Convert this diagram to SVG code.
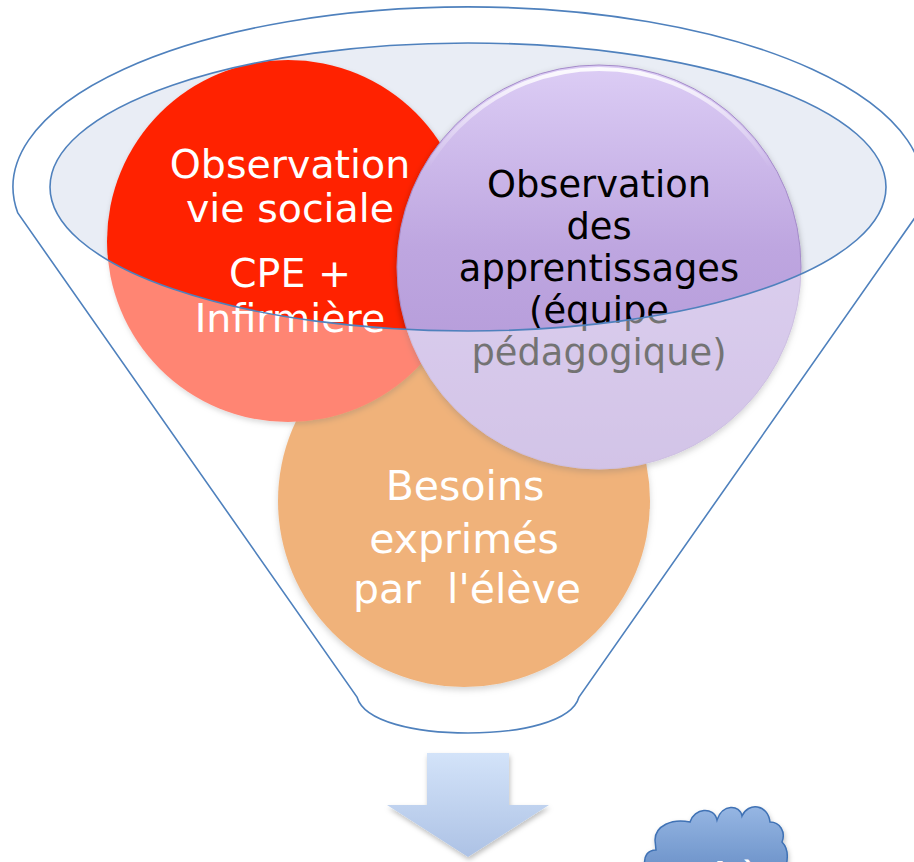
<svg xmlns="http://www.w3.org/2000/svg" width="914" height="862" viewBox="0 0 914 862">
  <defs>
    <style>
      .lbl { font-family: "Comic Sans MS", "DejaVu Sans", sans-serif; text-anchor: middle; }
      .white { fill: #ffffff; }
      .black { fill: #000000; }
      .outline { fill: none; stroke: #4F81BD; stroke-width: 1.6; }
    </style>
    <filter id="shadow" x="-20%" y="-20%" width="140%" height="140%">
      <feDropShadow dx="0" dy="3" stdDeviation="3" flood-color="#000" flood-opacity="0.3"/>
    </filter>
    <filter id="soft" x="-20%" y="-20%" width="140%" height="140%">
      <feDropShadow dx="1" dy="3" stdDeviation="2.5" flood-color="#000" flood-opacity="0.25"/>
    </filter>
    <linearGradient id="purpleGrad" x1="0" y1="0" x2="0" y2="1">
      <stop offset="0" stop-color="#DCCDF5"/>
      <stop offset="0.45" stop-color="#BEA6E0"/>
      <stop offset="1" stop-color="#AE93D4"/>
    </linearGradient>
    <linearGradient id="purpleHl" x1="0" y1="0" x2="0" y2="1">
      <stop offset="0" stop-color="#ffffff" stop-opacity="0.9"/>
      <stop offset="0.25" stop-color="#ffffff" stop-opacity="0"/>
    </linearGradient>
    <linearGradient id="arrowGrad" x1="0" y1="0" x2="0" y2="1">
      <stop offset="0" stop-color="#D3E3F9"/>
      <stop offset="1" stop-color="#ADC2E5"/>
    </linearGradient>
    <linearGradient id="cloudGrad" x1="0" y1="0" x2="0" y2="1">
      <stop offset="0" stop-color="#96B6E3"/>
      <stop offset="1" stop-color="#6F95CB"/>
    </linearGradient>
  </defs>

  <rect x="0" y="0" width="914" height="862" fill="#ffffff"/>

  <!-- funnel mouth fill (behind the circles) -->
  <g id="funnel-mouth">
    <ellipse cx="468" cy="187" rx="418" ry="144" fill="#E9EDF5"/>
  </g>

  <!-- orange node -->
  <g id="node-besoins">
    <circle cx="464" cy="501" r="186" fill="#E3730D" filter="url(#shadow)"/>
    <text class="lbl white" font-size="41" x="465" y="500">Besoins</text>
    <text class="lbl white" font-size="41" x="464" y="553">exprimés</text>
    <text class="lbl white" font-size="41" x="467" y="603" xml:space="preserve">par  l'élève</text>
  </g>

  <!-- red node -->
  <g id="node-vie-sociale">
    <circle cx="288" cy="241" r="181" fill="#FF2200" filter="url(#soft)"/>
    <text class="lbl white" font-size="39.5" x="290" y="178">Observation</text>
    <text class="lbl white" font-size="39.5" x="290" y="222">vie sociale</text>
    <text class="lbl white" font-size="39.5" x="290" y="287">CPE +</text>
    <text class="lbl white" font-size="39.5" x="290" y="332">Infirmière</text>
  </g>

  <!-- purple node -->
  <g id="node-apprentissages">
    <circle cx="599" cy="267" r="202" fill="url(#purpleGrad)" stroke="#A48BC9" stroke-width="1" filter="url(#shadow)"/>
    <circle cx="599" cy="268" r="199" fill="none" stroke="url(#purpleHl)" stroke-width="4"/>
    <text class="lbl black" font-size="36.8" x="599" y="197">Observation</text>
    <text class="lbl black" font-size="36.8" x="599" y="239">des</text>
    <text class="lbl black" font-size="36.8" x="599" y="281">apprentissages</text>
    <text class="lbl black" font-size="36.8" x="599" y="323">(équipe</text>
    <text class="lbl black" font-size="36.8" x="599" y="365">pédagogique)</text>
  </g>

  <!-- translucent funnel body over the lower parts of the circles -->
  <g id="funnel-body">
    <path fill="#ffffff" fill-opacity="0.45" fill-rule="evenodd"
      d="M 17.8,213 A 455 180 0 1 1 918.2,213 L 579,697 C 572,722 520,733 468,733 C 416,733 364,722 357,697 Z
         M 50,187 A 418 144 0 1 0 886,187 A 418 144 0 1 0 50,187 Z"/>
  </g>

  <!-- funnel outlines -->
  <g id="funnel-outline">
    <path class="outline" d="M 17.8,213 A 455 180 0 1 1 918.2,213 L 579,697 C 572,722 520,733 468,733 C 416,733 364,722 357,697 Z"/>
    <ellipse class="outline" cx="468" cy="187" rx="418" ry="144"/>
  </g>

  <!-- connectors -->
  <g id="connectors">
    <path d="M 427,753 L 509,753 L 509,805 L 549,805 L 468,857 L 387,805 L 427,805 Z" fill="url(#arrowGrad)" filter="url(#soft)"/>
  </g>

  <!-- cloud node (partially visible) -->
  <g id="node-cloud">
    <path d="M 645,866 C 643,856 648,850 656,850 L 655,840 C 655,826 672,818 690,822 C 694,808 714,806 717,820 C 722,804 740,804 742,816 C 748,802 768,804 770,822 C 780,822 786,832 782,842 C 788,848 788,858 786,866 Z"
      fill="url(#cloudGrad)" stroke="#3F72B5" stroke-width="1.5" filter="url(#soft)"/>
    <text class="white" font-family="'Comic Sans MS', 'DejaVu Sans', sans-serif" font-size="30" font-weight="bold" x="678" y="884">Critères</text>
  </g>
</svg>
